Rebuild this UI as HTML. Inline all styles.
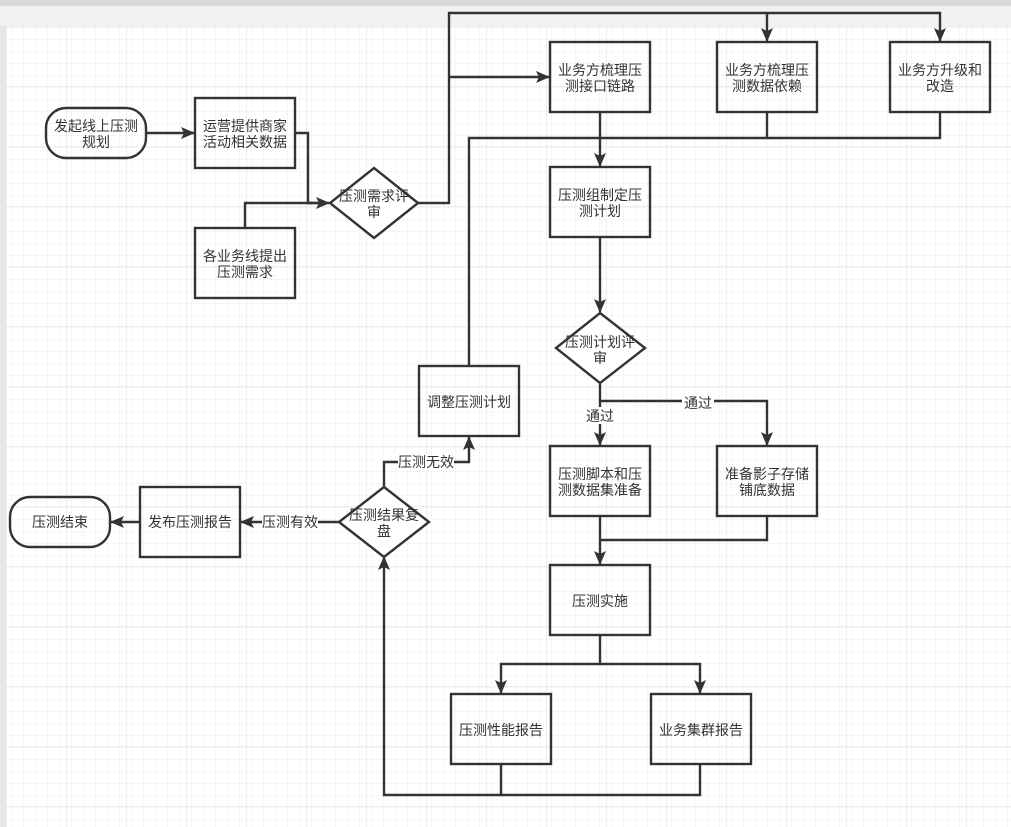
<!DOCTYPE html>
<html><head><meta charset="utf-8"><style>
html,body{margin:0;padding:0;background:#e6e6e6;}
svg{display:block;}
text{font-family:"Liberation Sans","Noto Sans CJK SC",sans-serif;font-size:14px;fill:#333;text-anchor:middle;}
</style></head><body>
<svg width="1011" height="827" xmlns="http://www.w3.org/2000/svg">
<defs>
<pattern id="g1" width="12" height="12" patternUnits="userSpaceOnUse" x="6" y="26"><path d="M12 0V12M0 12H12" stroke="#ececec" stroke-width="1" fill="none"/></pattern>
<pattern id="g2" width="60" height="60" patternUnits="userSpaceOnUse" x="6" y="26"><rect width="60" height="60" fill="url(#g1)"/><path d="M0 0V60M0 0H60" stroke="#dedede" stroke-width="1" fill="none"/></pattern>
<marker id="a" markerWidth="14" markerHeight="12" refX="13" refY="6" orient="auto" markerUnits="userSpaceOnUse"><path d="M0,0 L14,6 L0,12 L3,6 z" fill="#333"/></marker>
</defs>
<rect x="0" y="0" width="1011" height="6" fill="#d9d9d9"/>
<rect x="0" y="6" width="1011" height="20" fill="#f1f1f1"/>
<rect x="6" y="26" width="1005" height="801" fill="#fff"/>
<rect x="6" y="26" width="1005" height="801" fill="url(#g2)"/>
<g stroke="#333" stroke-width="2.4" fill="none">
<path d="M146 133H194" marker-end="url(#a)"/>
<path d="M295 133H308V203H329" marker-end="url(#a)"/>
<path d="M245 228V203H320"/>
<path d="M418 203H449V13H940V41" marker-end="url(#a)"/>
<path d="M767 13V41" marker-end="url(#a)"/>
<path d="M449 77H549" marker-end="url(#a)"/>
<path d="M469 366V138H940V112"/>
<path d="M767 112V138"/>
<path d="M600 112V166" marker-end="url(#a)"/>
<path d="M600 237V312" marker-end="url(#a)"/>
<path d="M600 383V445" marker-end="url(#a)"/>
<path d="M600 401H767V445" marker-end="url(#a)"/>
<path d="M600 516V564" marker-end="url(#a)"/>
<path d="M767 516V540H600"/>
<path d="M600 635V664H501V693" marker-end="url(#a)"/>
<path d="M600 664H700V693" marker-end="url(#a)"/>
<path d="M501 764V795H384V557" marker-end="url(#a)"/>
<path d="M700 764V795H501"/>
<path d="M384 487V462H469V437" marker-end="url(#a)"/>
<path d="M339 522H241" marker-end="url(#a)"/>
<path d="M140 522H111" marker-end="url(#a)"/>
<rect x="46" y="108" width="100" height="50" rx="20"/>
<rect x="195" y="98" width="100" height="70"/>
<rect x="195" y="228" width="100" height="70"/>
<path d="M374 168L418 203L374 238L330 203Z" fill="#fff"/>
<rect x="550" y="42" width="100" height="70"/>
<rect x="717" y="42" width="100" height="70"/>
<rect x="890" y="42" width="100" height="70"/>
<rect x="550" y="167" width="100" height="70"/>
<path d="M600 313L645 348L600 383L556 348Z" fill="#fff"/>
<rect x="419" y="366" width="100" height="70"/>
<rect x="550" y="446" width="100" height="70"/>
<rect x="717" y="446" width="100" height="70"/>
<path d="M384 487L429 522L384 557L339 522Z" fill="#fff"/>
<rect x="140" y="487" width="100" height="70"/>
<rect x="10" y="497" width="100" height="50" rx="20"/>
<rect x="550" y="565" width="100" height="70"/>
<rect x="451" y="694" width="100" height="70"/>
<rect x="651" y="694" width="100" height="70"/>
</g>
<g>
<rect x="584" y="407" width="32" height="17" fill="#fff"/>
<rect x="682" y="395" width="32" height="14" fill="#fff"/>
<rect x="398" y="455" width="56" height="15" fill="#fff"/>
<rect x="262" y="515" width="56" height="15" fill="#fff"/>
</g>
<text x="96" y="131">发起线上压测</text><text x="96" y="147">规划</text>
<text x="245" y="131">运营提供商家</text><text x="245" y="147">活动相关数据</text>
<text x="245" y="261">各业务线提出</text><text x="245" y="277">压测需求</text>
<text x="374" y="201">压测需求评</text><text x="374" y="217">审</text>
<text x="600" y="75">业务方梳理压</text><text x="600" y="91">测接口链路</text>
<text x="767" y="75">业务方梳理压</text><text x="767" y="91">测数据依赖</text>
<text x="940" y="75">业务方升级和</text><text x="940" y="91">改造</text>
<text x="600" y="200">压测组制定压</text><text x="600" y="216">测计划</text>
<text x="600" y="347">压测计划评</text><text x="600" y="363">审</text>
<text x="600" y="421">通过</text>
<text x="698" y="408">通过</text>
<text x="469" y="407">调整压测计划</text>
<text x="600" y="479">压测脚本和压</text><text x="600" y="495">测数据集准备</text>
<text x="767" y="479">准备影子存储</text><text x="767" y="495">铺底数据</text>
<text x="426" y="467">压测无效</text>
<text x="290" y="527">压测有效</text>
<text x="384" y="520">压测结果复</text><text x="384" y="536">盘</text>
<text x="190" y="527">发布压测报告</text>
<text x="60" y="527">压测结束</text>
<text x="600" y="606">压测实施</text>
<text x="501" y="735">压测性能报告</text>
<text x="701" y="735">业务集群报告</text>
</svg>
</body></html>
